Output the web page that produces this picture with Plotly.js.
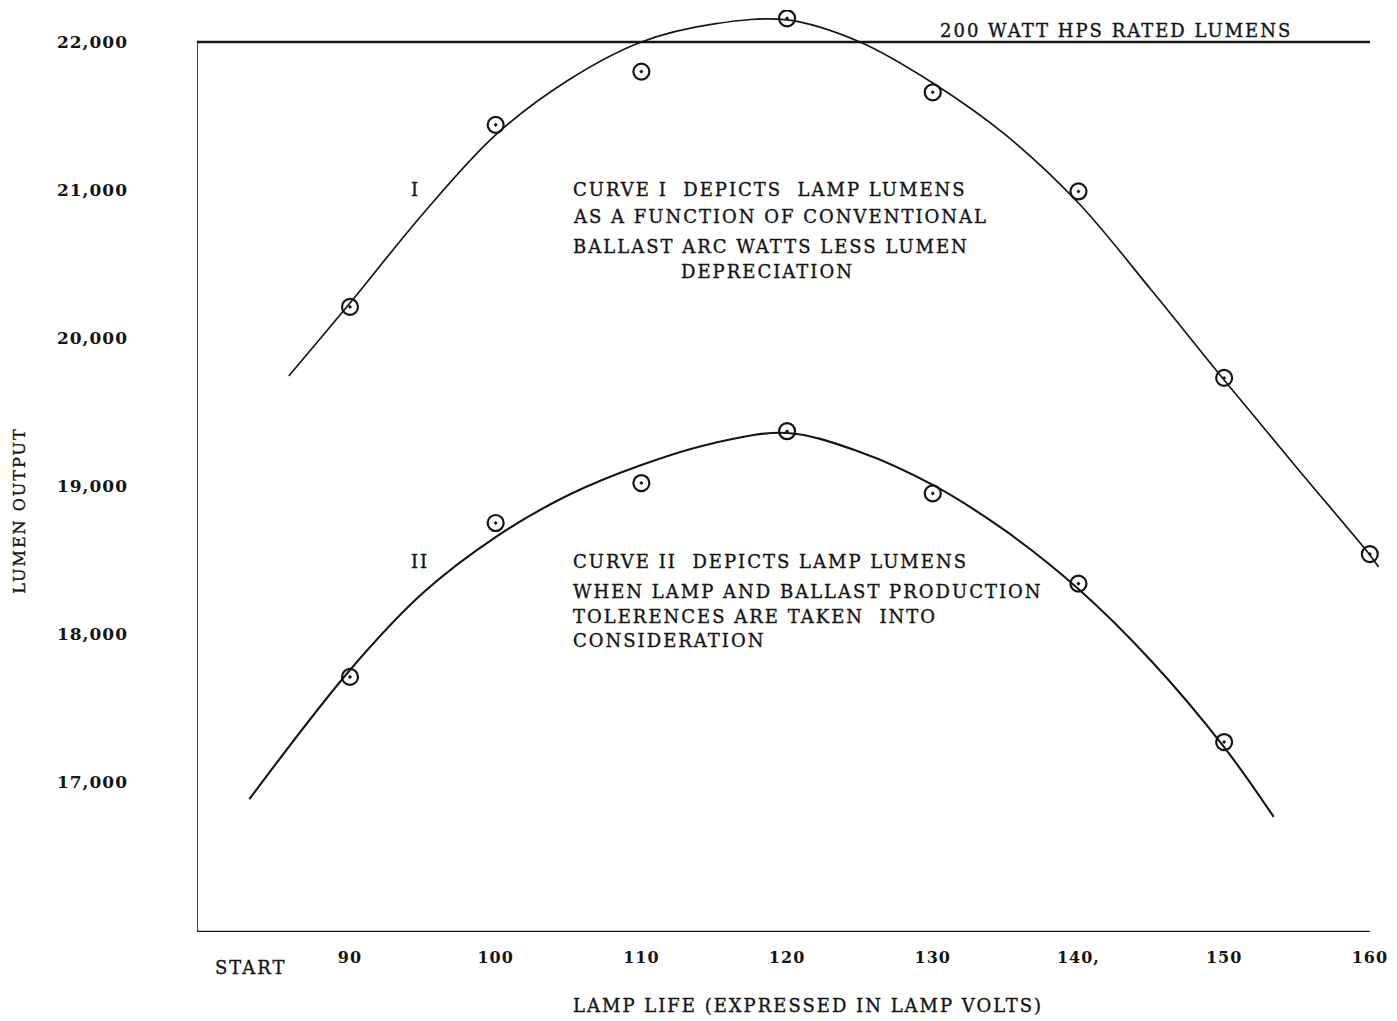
<!DOCTYPE html>
<html>
<head>
<meta charset="utf-8">
<script src="https://cdn.plot.ly/plotly-3.0.1.min.js"></script>
<style>
  html, body { margin: 0; padding: 0; background: #fff; }
  #chart { width: 1397px; height: 1021px; }
  .js-plotly-plot .annotation-text { letter-spacing: 2px; stroke: #151515; stroke-width: 0.35px; }
  .js-plotly-plot .xtick text, .js-plotly-plot .ytick text { letter-spacing: 1px; }
</style>
</head>
<body>
<div id="chart"></div>
<script>
// ---- Data ----
const lampVolts = [90, 100, 110, 120, 130, 140, 150, 160];
const curveIPoints = [20210, 21440, 21800, 22160, 21660, 20990, 19730, 18540];
const curveIIVolts = [90, 100, 110, 120, 130, 140, 150];
const curveIIPoints = [17710, 18750, 19020, 19370, 18950, 18340, 17270];

// drawn (fitted) curves
const curveIFitX = [85.8, 90, 95, 100, 105, 110, 115, 120, 125, 130, 135, 140, 145, 150, 155, 160, 160.6];
const curveIFitY = [19743, 20236, 20838, 21372, 21743, 22000, 22122, 22149, 22000, 21723, 21372, 20912, 20324, 19716, 19122, 18534, 18453];
const curveIIFitX = [83.1, 90, 95, 100, 105, 110, 115, 120, 125, 130, 135, 140, 145, 150, 153.4];
const curveIIFitY = [16885, 17757, 18277, 18655, 18939, 19142, 19291, 19358, 19230, 19007, 18696, 18304, 17818, 17236, 16764];

const ratedLumens = 22000;
const ratedX = [79.5, 160];

const xTickVals = [90, 100, 110, 120, 130, 140, 150, 160];
const xTickText = ['90', '100', '110', '120', '130', '140,', '150', '160'];
const yTickVals = [17000, 18000, 19000, 20000, 21000, 22000];
const yTickText = ['17,000', '18,000', '19,000', '20,000', '21,000', '22,000'];

const NB = '\u00A0';
const curveINote = ['CURVE I' + NB + NB + 'DEPICTS' + NB + NB + 'LAMP LUMENS', 'AS A FUNCTION OF CONVENTIONAL', 'BALLAST ARC WATTS LESS LUMEN'];
const curveINoteY = [21000, 20824, 20615];
const curveIINote = ['CURVE II' + NB + NB + 'DEPICTS LAMP LUMENS', 'WHEN LAMP AND BALLAST PRODUCTION', 'TOLERENCES ARE TAKEN' + NB + NB + 'INTO', 'CONSIDERATION'];
const curveIINoteY = [18493, 18284, 18115, 17953];

// ---- Drawing ----
const FONT = 'DejaVu Serif, Liberation Serif, serif';
const INK = '#151515';
const LS = 2; // letter spacing used in CSS for annotation text
const xRange = [79.5, 161.04];
const yRange = [15986.5, 22216];

const traces = [
  { x: ratedX, y: ratedX.map(() => ratedLumens), mode: 'lines', line: { color: INK, width: 2.6 }, hoverinfo: 'skip' },
  { x: curveIFitX, y: curveIFitY, mode: 'lines', line: { color: INK, width: 1.7, shape: 'spline', smoothing: 1 }, hoverinfo: 'skip' },
  { x: curveIIFitX, y: curveIIFitY, mode: 'lines', line: { color: INK, width: 2.1, shape: 'spline', smoothing: 1 }, hoverinfo: 'skip' },
  { x: lampVolts, y: curveIPoints, mode: 'markers', marker: { symbol: 'circle-open-dot', size: 16, color: INK, line: { width: 2.2, color: INK } } },
  { x: curveIIVolts, y: curveIIPoints, mode: 'markers', marker: { symbol: 'circle-open-dot', size: 16, color: INK, line: { width: 2.2, color: INK } } }
];

const annotations = [];
const baseFont = { family: FONT, size: 18, color: INK };
const txt = (text, x, y, opts) => Object.assign({
  text, x, y, xref: 'x', yref: 'y', showarrow: false,
  font: baseFont, xanchor: 'left', yanchor: 'middle'
}, opts || {});
// left-aligned text: compensate the CSS letter spacing that is not measured
const leftTxt = (text, x, y) => txt(text, x, y, { xshift: text.length * LS / 2 });

annotations.push(txt('200 WATT HPS RATED LUMENS', 142.6, 22080, { xanchor: 'center' }));
annotations.push(txt('I', 94.5, 21000, { xanchor: 'center' }));
annotations.push(txt('II', 94.8, 18493, { xanchor: 'center' }));
curveINote.forEach((t, i) => annotations.push(leftTxt(t, 105.2, curveINoteY[i])));
annotations.push(txt('DEPRECIATION', 118.65, 20446, { xanchor: 'center' }));
curveIINote.forEach((t, i) => annotations.push(leftTxt(t, 105.2, curveIINoteY[i])));
annotations.push({ text: 'START', xref: 'x', yref: 'paper', x: 83.2, y: -0.039, showarrow: false,
  xanchor: 'center', yanchor: 'middle', font: baseFont });
annotations.push({ text: 'LAMP LIFE (EXPRESSED IN LAMP VOLTS)', xref: 'paper', yref: 'paper', x: 0.514, y: -0.08, showarrow: false,
  xanchor: 'center', yanchor: 'middle', font: baseFont });
annotations.push({ text: 'LUMEN OUTPUT', xref: 'paper', yref: 'paper', x: -0.149, y: 0.458, showarrow: false, textangle: -90,
  xanchor: 'center', yanchor: 'middle', font: { family: FONT, size: 16, color: INK } });

const layout = {
  width: 1397, height: 1021,
  margin: { l: 197, r: 12, t: 10, b: 89 },
  paper_bgcolor: '#fff', plot_bgcolor: '#fff',
  showlegend: false,
  xaxis: {
    range: xRange, showgrid: false, zeroline: false, showline: false, ticks: '',
    tickvals: xTickVals, ticktext: xTickText, ticklabelstandoff: 14,
    tickfont: { family: FONT, size: 16, color: INK, weight: 'bold' }
  },
  yaxis: {
    range: yRange, showgrid: false, zeroline: false, showline: false, ticks: '',
    tickvals: yTickVals, ticktext: yTickText, ticklabelstandoff: 68,
    tickfont: { family: FONT, size: 17, color: INK, weight: 'bold' }
  },
  shapes: [
    { type: 'line', xref: 'x', yref: 'y', x0: xRange[0], x1: xRange[0], y0: yRange[0], y1: ratedLumens, line: { color: INK, width: 1.6 } },
    { type: 'line', xref: 'x', yref: 'y', x0: xRange[0], x1: 160, y0: yRange[0], y1: yRange[0], line: { color: INK, width: 2.6 } }
  ],
  annotations
};

Plotly.newPlot('chart', traces, layout, { displayModeBar: false, staticPlot: true });
</script>
</body>
</html>
